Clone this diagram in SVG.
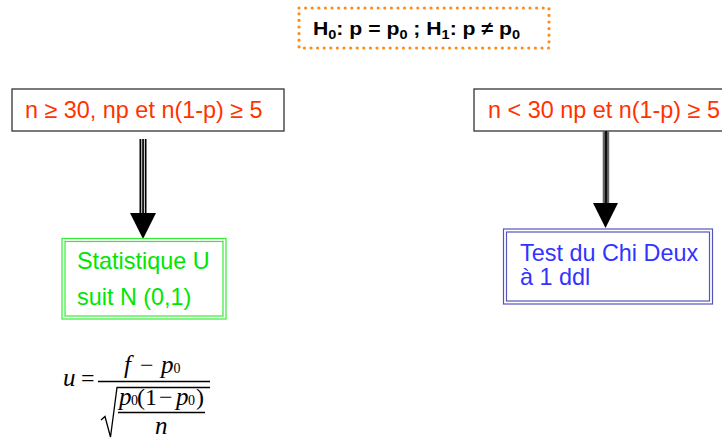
<svg xmlns="http://www.w3.org/2000/svg" width="722" height="439" viewBox="0 0 722 439">
<style>
.cond{fill:#fff;stroke:#333;stroke-width:1.3}
.ct{font-family:"Liberation Sans",Arial,sans-serif;font-size:23.4px;fill:#FF3300}
.hyp{font-family:"Liberation Sans",Arial,sans-serif;font-size:19px;font-weight:bold;fill:#000}
.gt{font-family:"Liberation Sans",Arial,sans-serif;font-size:23.4px;fill:#00E600}
.bt{font-family:"Liberation Sans",Arial,sans-serif;font-size:23.4px;fill:#3333FF}
.m{font-family:"Liberation Serif","Times New Roman",serif;font-size:25px;font-style:italic;fill:#000}
.mu{font-family:"Liberation Serif","Times New Roman",serif;font-size:24px;fill:#000}
.ms{font-family:"Liberation Serif","Times New Roman",serif;font-size:14px;fill:#000}
</style>
<rect width="722" height="439" fill="#fff"/>
<g id="hypothesis">
<rect x="299" y="8" width="250" height="40" fill="#fff" stroke="#FF8C1A" stroke-width="3.2" stroke-linecap="round" stroke-dasharray="0 6.6"/>
<text class="hyp" x="313" y="35" textLength="207" lengthAdjust="spacingAndGlyphs">H<tspan font-size="13" dy="4">0</tspan><tspan dy="-4">: p = p</tspan><tspan font-size="13" dy="4">0</tspan><tspan dy="-4"> ; H</tspan><tspan font-size="13" dy="4">1</tspan><tspan dy="-4">: p ≠ p</tspan><tspan font-size="13" dy="4">0</tspan></text>
</g>
<g id="cond-large">
<rect class="cond" x="12" y="89" width="272" height="42"/>
<text class="ct" x="25" y="118">n ≥ 30, np et n(1-p) ≥ 5</text>
</g>
<g id="cond-small">
<rect class="cond" x="474" y="89" width="260" height="42"/>
<text class="ct" x="488" y="118">n &lt; 30 np et n(1-p) ≥ 5</text>
</g>
<g id="connectors">
<rect x="139.5" y="139" width="7" height="75" fill="#000"/>
<rect x="141.3" y="139" width="0.9" height="75" fill="#fff"/>
<rect x="143.9" y="139" width="0.9" height="75" fill="#fff"/>
<polygon points="130,213 156,213 143,239" fill="#000"/>
<rect x="602.7" y="131" width="6.5" height="73" fill="#666"/>
<rect x="604.9" y="131" width="2.2" height="73" fill="#111"/>
<polygon points="593,203 618,203 605.5,228" fill="#000"/>
</g>
<g id="stat-u">
<rect x="62" y="238.5" width="164" height="80.5" fill="#fff" stroke="#33EE33" stroke-width="1.2"/>
<rect x="65" y="241.5" width="158" height="74.5" fill="none" stroke="#33EE33" stroke-width="1.2"/>
<text class="gt" x="77" y="269">Statistique U</text>
<text class="gt" x="77" y="305">suit N (0,1)</text>
</g>
<g id="chi-deux">
<rect x="503.5" y="229" width="209" height="75" fill="#fff" stroke="#5555BB" stroke-width="1.2"/>
<rect x="506.5" y="232" width="203" height="69" fill="none" stroke="#5555BB" stroke-width="1.2"/>
<text class="bt" x="520" y="261">Test du Chi Deux</text>
<text class="bt" x="520" y="285">à 1 ddl</text>
</g>
<g id="formula">
<text class="m" x="63" y="386">u</text>
<text class="mu" x="81" y="386">=</text>
<text class="m" x="124" y="373">f</text>
<text class="mu" x="140" y="373">−</text>
<text class="m" x="161" y="373">p</text><text class="ms" x="173.5" y="373">0</text>
<line x1="98" y1="381.5" x2="210" y2="381.5" stroke="#000" stroke-width="1.3"/>
<path d="M101,420 L105,416.5 L110.5,437 L117,387.5 L210,387.5" fill="none" stroke="#000" stroke-width="1.3"/>
<text class="m" x="119" y="405">p</text><text class="ms" x="131" y="405">0</text>
<text class="mu" x="137" y="405">(1</text>
<text class="mu" x="159" y="405">−</text>
<text class="m" x="176" y="405">p</text><text class="ms" x="188" y="405">0</text>
<text class="mu" x="196" y="405">)</text>
<line x1="118" y1="412.5" x2="205" y2="412.5" stroke="#000" stroke-width="1.3"/>
<text class="m" x="155" y="434">n</text>
</g>
</svg>
